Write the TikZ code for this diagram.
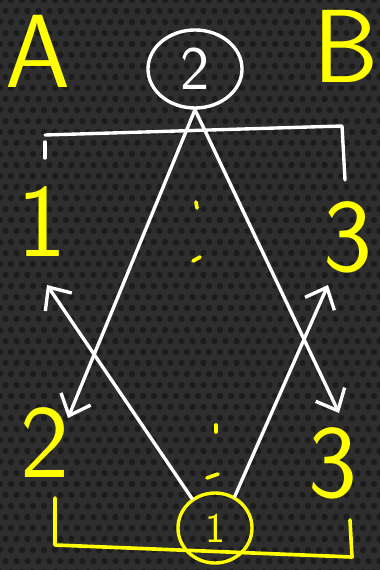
\documentclass[tikz,border=0pt]{standalone}
\usepackage{tikz}
\usetikzlibrary{arrows.meta,shapes.geometric}
\definecolor{Board}{HTML}{2E2E2E}
\definecolor{Hole}{HTML}{1C1C1C}
\definecolor{Marker}{HTML}{FFFF00}
\definecolor{Chalk}{HTML}{FFFFFF}

\begin{document}
\begin{tikzpicture}[x=0.025cm,y=-0.025cm,
  big/.style={text=Marker,font=\sffamily\fontsize{74}{74}\selectfont,inner sep=0pt},
  ring/.style={ellipse,line width=2.4pt,inner sep=0pt,font=\sffamily\fontsize{44}{44}\selectfont},
  chalk/.style={draw=Chalk,line width=2.4pt,line cap=round,line join=round},
  ink/.style={draw=Marker,line width=2.6pt,line cap=round,line join=round},
  arrow/.style={chalk,-{Straight Barb[length=4.5mm,width=8mm,line width=2.4pt]}}
]
% board
\useasboundingbox (0,0) rectangle (380,570);
\fill[Board] (0,0) rectangle (380,570);
\foreach \r in {0,...,52} {
  \foreach \c in {0,...,35} {
    \fill[Hole] ({\c*11+mod(\r,2)*5.5},{\r*11}) circle[radius=0.08cm];
  }
}
% labels
\node[big] (lblA) at (38,51) {A};
\node[big] (lblB) at (346,46) {B};
\node[big] (left1) at (42,222) {1};
\node[big] (right3) at (348,237) {3};
\node[big] (left2) at (45,443) {2};
\node[big] (right3b) at (333,463) {3};
% circled numbers
\node[ring,draw=Chalk,text=Chalk,minimum width=2.35cm,minimum height=1.95cm] (top2) at (195,69) {2};
\node[ring,draw=Marker,text=Marker,minimum width=1.85cm,minimum height=1.75cm,
  font=\sffamily\fontsize{30}{30}\selectfont] (bot1) at (215,528) {1};
% arrow ends
\coordinate (tipL) at (68,418);
\coordinate (tipR) at (339,413);
\coordinate (upL) at (47,285);
\coordinate (upR) at (328,285);
\draw[arrow] (top2.south) -- (tipL);
\draw[arrow] (top2.south) -- (tipR);
\draw[arrow] (bot1.128) -- (upL);
\draw[arrow] (bot1.58) -- (upR);
% brackets
\draw[chalk] (45,142) -- (45,158);
\draw[chalk] (45,135) -- (342,126) -- (345,180);
\draw[ink] (55,498) -- (55,545) -- (352,557) -- (350,520);
% dots
\draw[ink] (196,202) -- (197,208);
\draw[ink] (193,261) -- (200,257);
\draw[ink] (216,425) -- (216,432);
\draw[ink] (207,478) -- (218,474);
\end{tikzpicture}
\end{document}
